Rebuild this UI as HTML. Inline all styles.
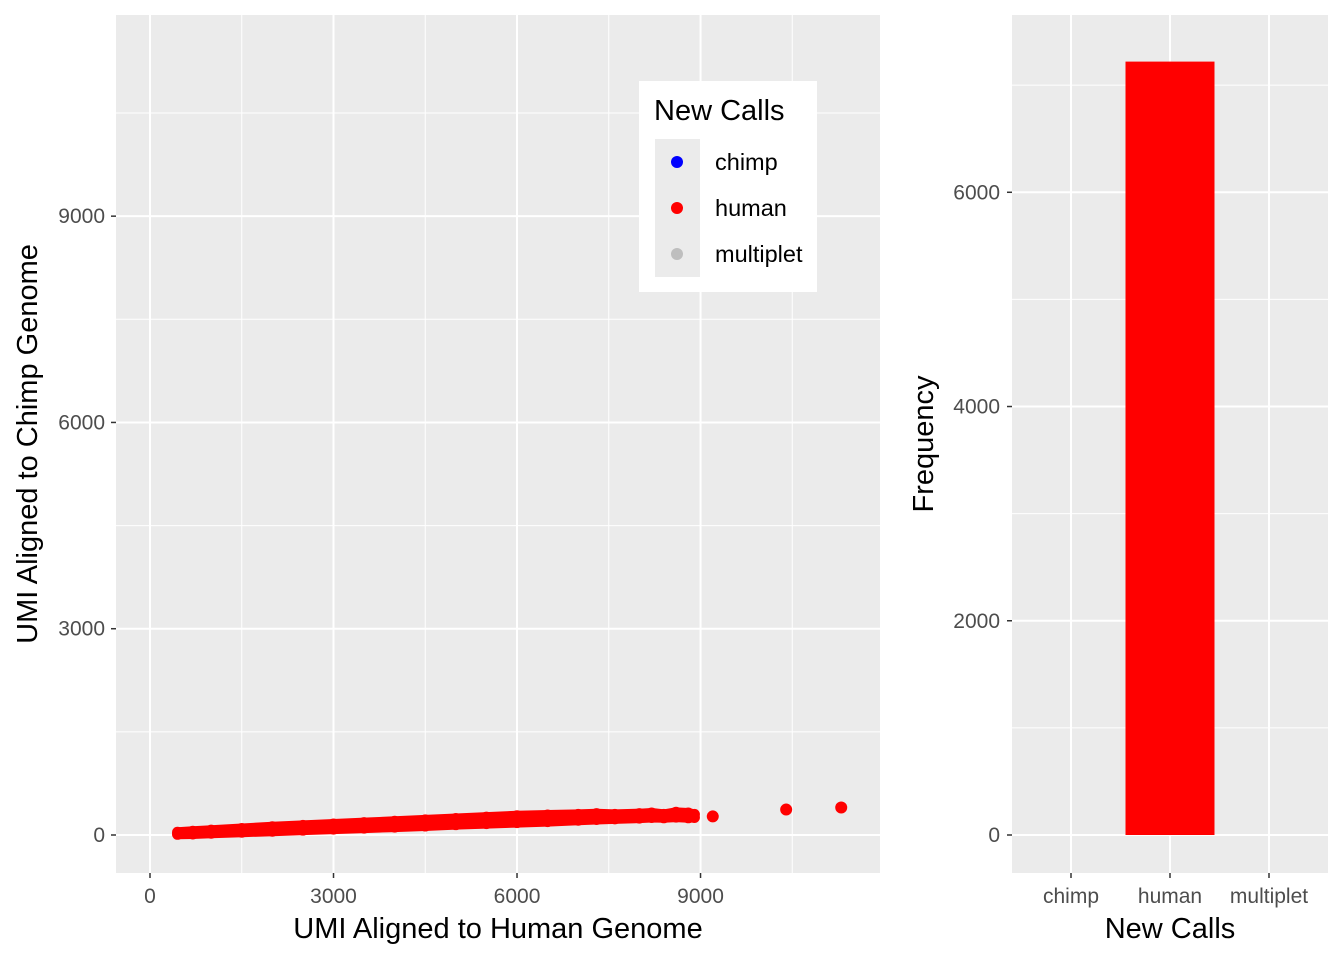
<!DOCTYPE html>
<html><head><meta charset="utf-8"><style>
body{margin:0;background:#fff;}
svg{font-family:"Liberation Sans",sans-serif;}
</style></head><body>
<svg id="c" width="1344" height="960" xmlns="http://www.w3.org/2000/svg"></svg>
<script>
const scatterX=[450,700,1000,1500,2000,2500,3000,3500,4000,4500,5000,5500,6000,6500,7000,7300,7600,8000,8200,8400,8600,8800,8900];
const scatterLow=[10,15,25,40,55,70,85,100,115,130,150,165,180,195,215,225,235,245,255,250,260,250,255];
const scatterHigh=[40,55,70,95,120,140,160,180,200,220,240,260,280,290,300,310,300,310,320,300,330,320,300];
const outlierX=[9200,10400,11300];
const outlierY=[270,370,400];
const xTicks=[0,3000,6000,9000];
const yTicks=[0,3000,6000,9000];
const barCats=["chimp","human","multiplet"];
const barVals=[0,7220,0];
const barColors=["blue","red","#bebebe"];
const barTicks=[0,2000,4000,6000];

const NS="http://www.w3.org/2000/svg";
const svg=document.getElementById('c');
function mk(t,a,p){const e=document.createElementNS(NS,t);for(const k in a)e.setAttribute(k,a[k]);(p||svg).appendChild(e);return e;}
const sx=v=>150+v*0.06117, sy=v=>835-v*0.06876;
const by=v=>835-v*0.10712, bx=i=>1071+i*99;

const lp=mk('rect',{x:116,y:15,width:764,height:858,fill:'#ebebeb'});

for(let v=1500;v<12000;v+=3000){mk('line',{x1:sx(v),x2:sx(v),y1:15,y2:873,stroke:'#fff','stroke-width':1});}
for(let v=1500;v<12000;v+=3000){if(sy(v)>15)mk('line',{x1:116,x2:880,y1:sy(v),y2:sy(v),stroke:'#fff','stroke-width':1});}
xTicks.forEach(v=>{mk('line',{x1:sx(v),x2:sx(v),y1:15,y2:873,stroke:'#fff','stroke-width':2});
 mk('line',{x1:sx(v),x2:sx(v),y1:873,y2:878,stroke:'#333','stroke-width':1.5});
 const t=mk('text',{x:sx(v),y:903,'text-anchor':'middle','font-size':21,fill:'#4d4d4d'});t.textContent=v;
 });
yTicks.forEach(v=>{mk('line',{x1:116,x2:880,y1:sy(v),y2:sy(v),stroke:'#fff','stroke-width':2});
 mk('line',{x1:111,x2:116,y1:sy(v),y2:sy(v),stroke:'#333','stroke-width':1.5});
 const t=mk('text',{x:105,y:sy(v)+7,'text-anchor':'end','font-size':21,fill:'#4d4d4d'});t.textContent=v;
 });
const pts=scatterX.map((x,i)=>[x,scatterLow[i]]).concat(scatterX.map((x,i)=>[x,scatterHigh[i]]).reverse());
const band=mk('polygon',{points:pts.map(p=>sx(p[0])+','+sy(p[1])).join(' '),fill:'red',stroke:'red','stroke-width':10,'stroke-linejoin':'round'});

scatterX.forEach((x,i)=>{[scatterLow[i],scatterHigh[i]].forEach(y=>{const c=mk('circle',{cx:sx(x),cy:sy(y),r:5.5,fill:'red'});
 });});
outlierX.forEach((x,i)=>{const c=mk('circle',{cx:sx(x),cy:sy(outlierY[i]),r:6,fill:'red'});
 });
let t=mk('text',{x:498,y:938,'text-anchor':'middle','font-size':29,fill:'#000'});t.textContent='UMI Aligned to Human Genome';

t=mk('text',{x:37,y:444,'text-anchor':'middle','font-size':29,fill:'#000',transform:'rotate(-90 37 444)'});t.textContent='UMI Aligned to Chimp Genome';


const lg=mk('g',{});
mk('rect',{x:639,y:81,width:178,height:211,fill:'#fff'},lg);
t=mk('text',{x:654,y:120,'font-size':29},lg);t.textContent='New Calls';
["chimp","human","multiplet"].forEach((n,i)=>{const g=mk('g',{},lg);
 mk('rect',{x:655,y:139+i*46,width:45,height:46,fill:'#ebebeb'},g);
 mk('circle',{cx:677,cy:162+i*46,r:6,fill:barColors[i]},g);
 const tt=mk('text',{x:715,y:170+i*46,'font-size':23.5},g);tt.textContent=n;});

const rp=mk('rect',{x:1012,y:15,width:316,height:858,fill:'#ebebeb'});

[1000,3000,5000,7000].forEach(v=>mk('line',{x1:1012,x2:1328,y1:by(v),y2:by(v),stroke:'#fff','stroke-width':1}));
barTicks.forEach(v=>{mk('line',{x1:1012,x2:1328,y1:by(v),y2:by(v),stroke:'#fff','stroke-width':2});
 mk('line',{x1:1007,x2:1012,y1:by(v),y2:by(v),stroke:'#333','stroke-width':1.5});
 const tt=mk('text',{x:1000,y:by(v)+7,'text-anchor':'end','font-size':21,fill:'#4d4d4d'});tt.textContent=v;
 });
barCats.forEach((c,i)=>{mk('line',{x1:bx(i),x2:bx(i),y1:15,y2:873,stroke:'#fff','stroke-width':2});
 mk('line',{x1:bx(i),x2:bx(i),y1:873,y2:878,stroke:'#333','stroke-width':1.5});
 const tt=mk('text',{x:bx(i),y:903,'text-anchor':'middle','font-size':21,fill:'#4d4d4d'});tt.textContent=c;
 });
barCats.forEach((c,i)=>{if(barVals[i]<=0)return;const r=mk('rect',{x:bx(i)-44.5,y:by(barVals[i]),width:89,height:by(0)-by(barVals[i]),fill:barColors[i]});
 });
t=mk('text',{x:1170,y:938,'text-anchor':'middle','font-size':29});t.textContent='New Calls';

t=mk('text',{x:933,y:444,'text-anchor':'middle','font-size':29,transform:'rotate(-90 933 444)'});t.textContent='Frequency';

</script>
</body></html>
